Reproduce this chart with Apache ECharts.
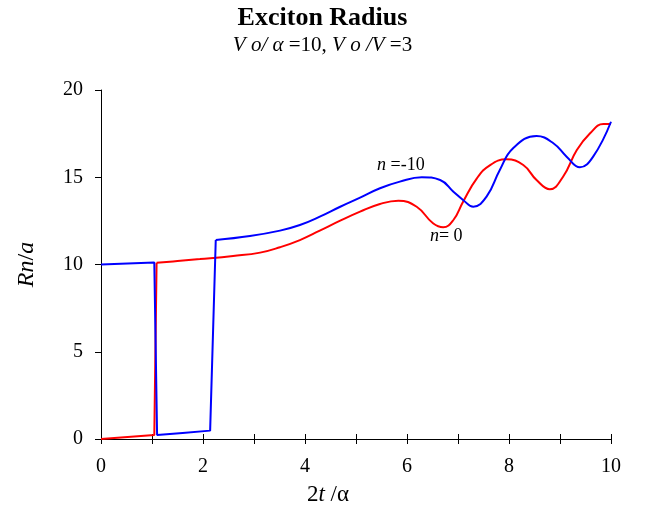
<!DOCTYPE html>
<html>
<head>
<meta charset="utf-8">
<script src="https://cdn.jsdelivr.net/npm/echarts@6/dist/echarts.min.js"></script>
<style>
  html, body { margin: 0; padding: 0; background: #fff; }
  #main { width: 645px; height: 508px; }
</style>
</head>
<body>
<div id="main"></div>
<script>
// n = 0 (red): step part, then the smooth part
var redStepX = [0, 1.045, 1.09];
var redStepY = [0, 0.23, 10.1];
var redX = [1.09, 1.5, 1.94, 2.59, 3.12, 3.51, 3.9, 4.29, 4.69, 5.08, 5.47, 5.83, 6.19, 6.51, 6.71, 6.91, 7.1, 7.37, 7.63, 7.95, 8.28, 8.54, 8.8, 9.06, 9.33, 9.59, 9.85, 10];
var redY = [10.1, 10.2, 10.31, 10.49, 10.68, 10.99, 11.4, 11.94, 12.51, 13.03, 13.47, 13.66, 13.31, 12.36, 12.13, 12.55, 13.6, 14.94, 15.7, 16.03, 15.7, 14.84, 14.31, 15.03, 16.56, 17.52, 18.05, 18.05];
// n = -10 (blue)
var blueStepX = [0, 1.045, 1.10, 1.6, 2.14, 2.25];
var blueStepY = [10, 10.12, 0.23, 0.35, 0.48, 11.4];
var blueX = [2.25, 2.92, 3.51, 3.9, 4.29, 4.69, 5.08, 5.47, 5.86, 6.29, 6.65, 6.91, 7.1, 7.3, 7.56, 7.82, 8.08, 8.54, 8.87, 9.13, 9.39, 9.65, 10];
var blueY = [11.4, 11.63, 11.94, 12.26, 12.74, 13.31, 13.83, 14.37, 14.75, 15.0, 14.84, 14.17, 13.7, 13.31, 13.89, 15.42, 16.66, 17.36, 16.95, 16.18, 15.57, 16.18, 18.18];

var xTicks = [0, 2, 4, 6, 8, 10];
var yTicks = [0, 5, 10, 15, 20];

function pairs(xs, ys) {
    var out = [];
    for (var i = 0; i < xs.length; i++) out.push([xs[i], ys[i]]);
    return out;
}

var font = '"Liberation Serif", "DejaVu Serif", serif';
function richStyle(size) {
    return {
        i: { fontFamily: font, fontStyle: 'italic', fontSize: size, color: '#000' },
        n: { fontFamily: font, fontSize: size, color: '#000' }
    };
}

var chart = echarts.init(document.getElementById('main'));

function lineSeries(data, color, smooth) {
    return {
        type: 'line',
        data: data,
        showSymbol: false,
        smooth: smooth,
        lineStyle: { color: color, width: 2 },
        itemStyle: { color: color }
    };
}

function tag(text, coord) {
    return {
        symbolSize: 0,
        label: {
            show: true, position: 'inside', formatter: text,
            rich: richStyle(18)
        },
        data: [{ coord: coord }]
    };
}

var redMain = lineSeries(pairs(redX, redY), '#ff0000', 0.45);
redMain.markPoint = tag('{i|n}{n|= 0}', [6.77, 11.59]);
var blueMain = lineSeries(pairs(blueX, blueY), '#0000ff', 0.45);
blueMain.markPoint = tag('{i|n}{n| =-10}', [5.88, 15.70]);

var option = {
    animation: false,
    title: {
        text: 'Exciton Radius',
        subtext: '{i|V o/ α}{n| =10, }{i|V o /V}{n| =3}',
        left: 'center',
        top: 0,
        itemGap: 4,
        textStyle: { fontFamily: font, fontWeight: 'bold', fontSize: 26, color: '#000' },
        subtextStyle: { fontFamily: font, fontSize: 21, color: '#000', rich: richStyle(21) }
    },
    grid: { left: 101, right: 34, top: 90, bottom: 69, outerBoundsMode: 'none' },
    xAxis: [{
        type: 'value', min: 0, max: 10, interval: 1,
        name: '{n|2}{i|t}{n| /α}',
        nameLocation: 'middle', nameGap: 44,
        nameTextStyle: { fontFamily: font, fontSize: 23, color: '#000', padding: [0, 56, 0, 0], rich: richStyle(23) },
        axisLine: { show: true, lineStyle: { color: '#000', width: 1 } },
        axisTick: { show: true, inside: false, length: 5, lineStyle: { color: '#000' } },
        axisLabel: {
            fontFamily: font, fontSize: 20, color: '#000', margin: 18,
            formatter: function (v) { return xTicks.indexOf(v) >= 0 ? String(v) : ''; }
        },
        splitLine: { show: false }
    }, {
        type: 'value', min: 0, max: 10, interval: 1, position: 'bottom',
        axisLine: { show: false },
        axisTick: { show: true, inside: true, length: 5, lineStyle: { color: '#000' } },
        axisLabel: { show: false },
        splitLine: { show: false }
    }],
    yAxis: {
        type: 'value', min: 0, max: 20, interval: 5,
        name: '{i|Rn}{n|/}{i|a}',
        nameLocation: 'middle', nameGap: 62, nameRotate: 90,
        nameTextStyle: { fontFamily: font, fontSize: 24, color: '#000', rich: richStyle(24) },
        axisLine: { show: true, lineStyle: { color: '#000', width: 1 } },
        axisTick: { show: true, inside: false, length: 6, lineStyle: { color: '#000' } },
        axisLabel: {
            fontFamily: font, fontSize: 20, color: '#000', margin: 18,
            formatter: function (v) { return yTicks.indexOf(v) >= 0 ? String(v) : ''; }
        },
        splitLine: { show: false }
    },
    series: [
        lineSeries(pairs(redStepX, redStepY), '#ff0000', false),
        redMain,
        lineSeries(pairs(blueStepX, blueStepY), '#0000ff', false),
        blueMain
    ]
};

chart.setOption(option);
window.addEventListener('resize', function () {
    chart.resize();
});
</script>
</body>
</html>
